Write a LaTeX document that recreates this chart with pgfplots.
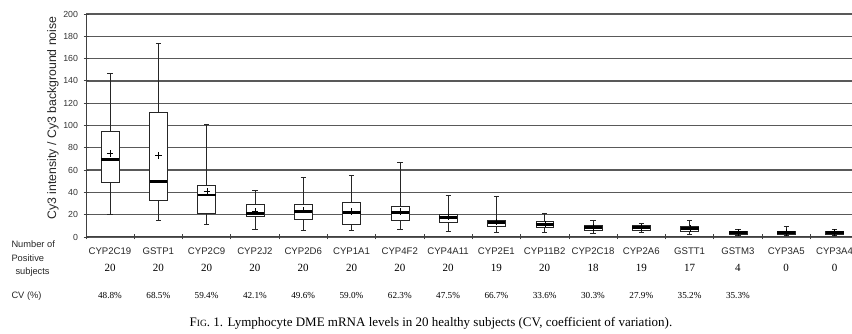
\documentclass[border=0pt]{standalone}
\usepackage{pgfplots}
\pgfplotsset{compat=1.18}
\usepgfplotslibrary{statistics}
\usepackage{fontspec}
\setmainfont{Liberation Sans}
\newfontfamily\tnr{Liberation Serif}
\newcommand{\bx}[7]{\addplot[boxplot prepared={draw position=#1, lower whisker=#2, lower quartile=#3, median=#4, upper quartile=#5, upper whisker=#6, average=#7}] coordinates {};}
\begin{document}
\begin{tikzpicture}
\useasboundingbox (0,0) rectangle (852bp,334bp);
\begin{axis}[
  at={(86bp,97bp)}, anchor=south west,
  scale only axis, width=766bp, height=223bp,
  xmin=-0.5, xmax=15.36, ymin=0, ymax=200,
  axis x line=bottom, axis y line=left,
  axis line style={-, black!75, line width=1bp},
  xtick={-0.5,0.5,...,14.5}, xticklabels={},
  ytick={0,20,...,200},
  tick align=center, major tick length=5bp,
  tick style={black!75, line width=0.8bp},
  ymajorgrids, major grid style={black!65, line width=1.3bp},
  /pgf/number format/assume math mode=true,
  yticklabel style={font=\fontsize{8.8bp}{9bp}\selectfont, text=black!80, xshift=-2bp},
  clip=false,
  boxplot/draw direction=y,
  boxplot/box extend=0.37,
  boxplot/whisker extend=0.11,
  boxplot/every box/.style={draw=black!85, fill=white, line width=0.7bp},
  boxplot/every whisker/.style={black!85, line width=0.8bp},
  boxplot/every median/.style={black, line width=2.6bp},
  boxplot/every average/.style={/tikz/mark=+, /tikz/mark size=3.2bp, /tikz/mark options={black!85, line width=0.6bp}},
]
\bx{0}{20.6}{48.7}{69.7}{94.4}{147}{75}
\bx{1}{15}{33}{50}{111.5}{173.7}{73}
\bx{2}{11.7}{21.2}{37.7}{46}{101}{41}
\bx{3}{7.2}{18.2}{21.2}{29.6}{41.5}{23}
\bx{4}{5.7}{16.1}{22.7}{29.6}{53.5}{24}
\bx{5}{5.7}{11.4}{21.8}{31.1}{55.6}{23}
\bx{6}{7.2}{14.6}{21.8}{27.8}{67.3}{23}
\bx{7}{5.4}{13.2}{17.3}{20.6}{37}{18}
\bx{8}{4.5}{9.9}{12.8}{15.2}{36.2}{13.5}
\bx{9}{3.9}{8.7}{11.4}{13.7}{21.2}{11.5}
\bx{10}{3.3}{5.7}{8.4}{10.8}{15.2}{8.6}
\bx{11}{3.9}{6.3}{8.4}{10.5}{12.3}{8.5}
\bx{12}{2.7}{4.8}{7.5}{9.9}{15.2}{7.6}
\bx{13}{1.5}{2.4}{3.9}{5.4}{7.2}{4}
\bx{14}{1.5}{2.4}{3.9}{5.4}{9.2}{4}
\bx{15}{1.5}{2.4}{3.9}{5.4}{6.6}{4}
\end{axis}
% row headers
\node[font=\fontsize{9.3bp}{10bp}\selectfont, anchor=west, text=black!85] at (8bp,90bp) {Number of};
\node[font=\fontsize{9.3bp}{10bp}\selectfont, anchor=west, text=black!85] at (8bp,76bp) {Positive};
\node[font=\fontsize{9.3bp}{10bp}\selectfont, anchor=west, text=black!85] at (12bp,62bp) {subjects};
\node[font=\fontsize{9.3bp}{10bp}\selectfont, anchor=west, text=black!85] at (8bp,38bp) {CV (\%)};
% table
\foreach \n/\c/\v [count=\i from 0] in {CYP2C19/20/48.8\%, GSTP1/20/68.5\%, CYP2C9/20/59.4\%, CYP2J2/20/42.1\%, CYP2D6/20/49.6\%, CYP1A1/20/59.0\%, CYP4F2/20/62.3\%, CYP4A11/20/47.5\%, CYP2E1/19/66.7\%, CYP11B2/20/33.6\%, CYP2C18/18/30.3\%, CYP2A6/19/27.9\%, GSTT1/17/35.2\%, GSTM3/4/35.3\%, CYP3A5/0/{}, CYP3A4/0/{}} {
  \node[font=\fontsize{9.6bp}{10bp}\selectfont, text=black!85] at ({(110+48.3*\i)*1bp}, 83bp) {\n};
  \node[font=\tnr\fontsize{11bp}{12bp}\selectfont] at ({(110+48.3*\i)*1bp}, 66bp) {\c};
  \node[font=\tnr\fontsize{9.2bp}{10bp}\selectfont] at ({(110+48.3*\i)*1bp}, 38bp) {\v};
}
\node[font=\tnr\fontsize{13bp}{14bp}\selectfont] at (431bp,11bp) {F{\fontsize{9.5bp}{10bp}\selectfont IG}. 1. Lymphocyte DME mRNA levels in 20 healthy subjects (CV, coefficient of variation).};
% y label
\node[rotate=90, font=\fontsize{12.3bp}{13bp}\selectfont, text=black!85] at (53bp,216bp) {Cy3 intensity / Cy3 background noise};
\end{tikzpicture}
\end{document}
